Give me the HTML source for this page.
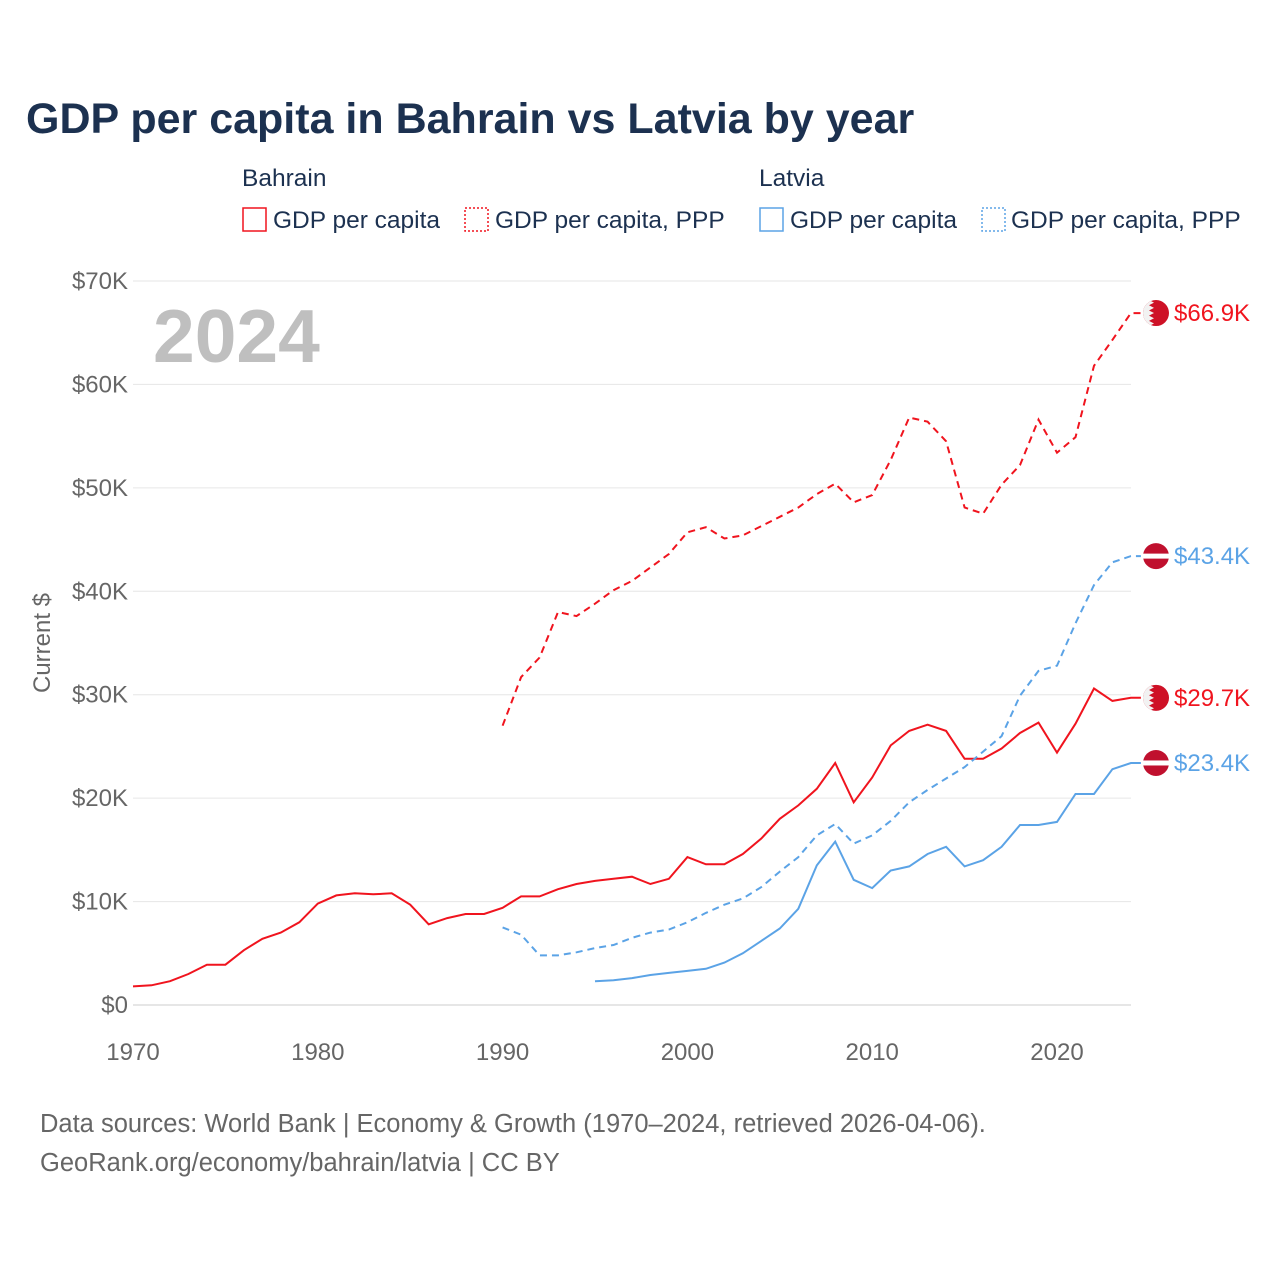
<!DOCTYPE html>
<html><head><meta charset="utf-8"><style>
body{margin:0;background:#fff;width:1280px;height:1280px;overflow:hidden;font-family:"Liberation Sans",sans-serif}
</style></head><body>
<svg id="chart" width="1280" height="1280" xmlns="http://www.w3.org/2000/svg" font-family="Liberation Sans, sans-serif">
<text x="26" y="133" font-size="43" font-weight="bold" fill="#1c3150">GDP per capita in Bahrain vs Latvia by year</text>
<g font-size="24.5" fill="#1c3150">
<text x="242" y="186">Bahrain</text><text x="759" y="186">Latvia</text>
<rect x="243" y="208" width="23" height="23" fill="none" stroke="#f0141e" stroke-width="1.5"/>
<text x="273" y="228">GDP per capita</text>
<rect x="465" y="208" width="23" height="23" fill="none" stroke="#f0141e" stroke-width="1.5" stroke-dasharray="2,2"/>
<text x="495" y="228">GDP per capita, PPP</text>
<rect x="760" y="208" width="23" height="23" fill="none" stroke="#5ba3e6" stroke-width="1.5"/>
<text x="790" y="228">GDP per capita</text>
<rect x="982" y="208" width="23" height="23" fill="none" stroke="#5ba3e6" stroke-width="1.5" stroke-dasharray="2,2"/>
<text x="1011" y="228">GDP per capita, PPP</text>
</g>
<text x="153" y="362" font-size="75" font-weight="bold" fill="#bfbfbf">2024</text>
<text transform="translate(50,643) rotate(-90)" text-anchor="middle" font-size="24" fill="#666">Current $</text>
<g id="grid"></g><g id="series"></g><g id="ends"></g>
<text x="40" y="1132" font-size="25.5" fill="#666">Data sources: World Bank | Economy &amp; Growth (1970–2024, retrieved 2026-04-06).</text>
<text x="40" y="1171" font-size="25.5" fill="#666">GeoRank.org/economy/bahrain/latvia | CC BY</text>
</svg>
<script>
const yTicks=[0,10,20,30,40,50,60,70];
const xTicks=[1970,1980,1990,2000,2010,2020];
const bhrGdp=[1.8,1.9,2.3,3.0,3.9,3.9,5.3,6.4,7.0,8.0,9.8,10.6,10.8,10.7,10.8,9.7,7.8,8.4,8.8,8.8,9.4,10.5,10.5,11.2,11.7,12.0,12.2,12.4,11.7,12.2,14.3,13.6,13.6,14.6,16.1,18.0,19.3,20.9,23.4,19.6,22.0,25.1,26.5,27.1,26.5,23.8,23.8,24.8,26.3,27.3,24.4,27.2,30.6,29.4,29.7];
const bhrPpp=[27.0,31.7,33.6,38.0,37.6,38.8,40.1,41.0,42.3,43.6,45.7,46.2,45.1,45.4,46.3,47.2,48.1,49.4,50.4,48.6,49.3,52.7,56.8,56.4,54.5,48.1,47.5,50.3,52.2,56.6,53.4,54.9,61.8,64.3,66.9];
const lvaGdp=[2.3,2.4,2.6,2.9,3.1,3.3,3.5,4.1,5.0,6.2,7.4,9.3,13.5,15.8,12.1,11.3,13.0,13.4,14.6,15.3,13.4,14.0,15.3,17.4,17.4,17.7,20.4,20.4,22.8,23.4];
const lvaPpp=[7.5,6.8,4.8,4.8,5.1,5.5,5.8,6.5,7.0,7.3,8.0,8.9,9.7,10.3,11.4,12.9,14.3,16.4,17.5,15.6,16.4,17.8,19.6,20.8,21.9,23.0,24.5,26.0,29.9,32.3,32.8,36.9,40.6,42.8,43.4];
const X=y=>133+(y-1970)*18.48;
const Y=v=>1005-v*10.343;
const NS="http://www.w3.org/2000/svg";
function mk(t,a,p){const e=document.createElementNS(NS,t);for(const k in a)e.setAttribute(k,a[k]);p.appendChild(e);return e;}
const grid=document.getElementById('grid');
yTicks.forEach(v=>{
 const l=mk('line',{x1:133,x2:1131,y1:Y(v),y2:Y(v),stroke:v===0?'#ccc':'#e6e6e6','stroke-width':1},grid);
 
 
 const t=mk('text',{x:128,y:Y(v)+8,'text-anchor':'end','font-size':24,fill:'#666'},grid);
 
 
 t.textContent='$'+v+(v?'K':'');
});
xTicks.forEach(y=>{
 const t=mk('text',{x:X(y),y:1060,'text-anchor':'middle','font-size':24,fill:'#666'},grid);
 
 
 t.textContent=y;
});
const ser=document.getElementById('series');
function line(arr,start,color,dash,name){
 let d=arr.map((v,i)=>(i?'L':'M')+X(start+i).toFixed(1)+','+Y(v).toFixed(1)).join('');
 d+='L'+(X(start+arr.length-1)+10).toFixed(1)+','+Y(arr[arr.length-1]).toFixed(1);
 const p=mk('path',{d:d,fill:'none',stroke:color,'stroke-width':2,'stroke-dasharray':dash},ser);
 
 
}
line(bhrGdp,1970,'#f0141e','none','bahrain-gdp-line');
line(bhrPpp,1990,'#f0141e','7,5','bahrain-ppp-line');
line(lvaGdp,1995,'#5ba3e6','none','latvia-gdp-line');
line(lvaPpp,1990,'#5ba3e6','7,5','latvia-ppp-line');
const ends=document.getElementById('ends');
function flag(v,country,color,name){
 const cy=Y(v),cx=1156;
 const g=mk('g',{},ends);
 
 
 if(country==='bh'){
  mk('circle',{cx:cx,cy:cy,r:13,fill:'#ce1126'},g);
  let pts=`${cx-13},${cy-13} `;
  for(let i=0;i<5;i++){const y0=cy-13+i*5.2;pts+=`${cx-7},${y0} ${cx-2},${y0+2.6} `;}
  pts+=`${cx-7},${cy+13} ${cx-13},${cy+13}`;
  const cp=mk('clipPath',{id:'c'+name},g);mk('circle',{cx:cx,cy:cy,r:13},cp);
  mk('polygon',{points:pts,fill:'#f2f2f2','clip-path':'url(#c'+name+')'},g);
 } else {
  mk('circle',{cx:cx,cy:cy,r:13,fill:'#c0102e'},g);
  mk('rect',{x:cx-13,y:cy-2.5,width:26,height:5,fill:'#fff'},g);
 }
 const t=mk('text',{x:1174,y:cy+8,'font-size':24,fill:color},ends);
 
 
 t.textContent='$'+v.toFixed(1)+'K';
}
flag(bhrPpp[bhrPpp.length-1],'bh','#f0141e','bahrain-ppp-end');
flag(lvaPpp[lvaPpp.length-1],'lv','#5ba3e6','latvia-ppp-end');
flag(bhrGdp[bhrGdp.length-1],'bh','#f0141e','bahrain-gdp-end');
flag(lvaGdp[lvaGdp.length-1],'lv','#5ba3e6','latvia-gdp-end');
</script>
</body></html>
